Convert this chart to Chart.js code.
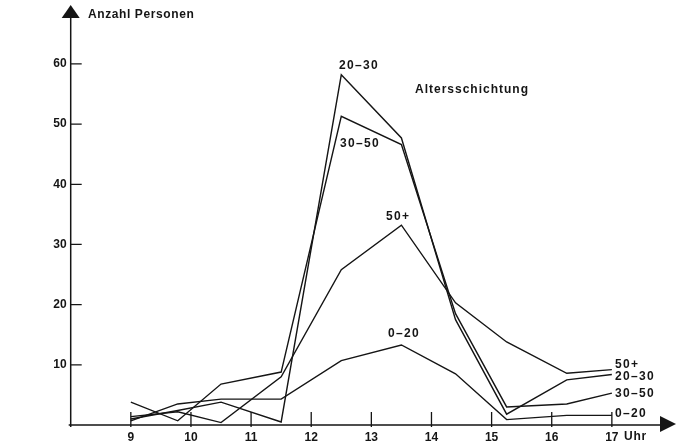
<!DOCTYPE html>
<html>
<head>
<meta charset="utf-8">
<script src="https://cdn.jsdelivr.net/npm/chart.js@4.4.1/dist/chart.umd.min.js"></script>
<style>
  html, body { margin: 0; padding: 0; background: #fff; }
  #wrap { width: 679px; height: 448px; }
</style>
</head>
<body>
<div id="wrap"><canvas id="chart"></canvas></div>
<script>
// Anzahl Personen nach Uhrzeit, Altersschichtung
const hours = [9, 9.78, 10.5, 11.5, 12.5, 13.5, 14.4, 15.25, 16.25, 17];
const age0_20 = [0.7, 3.5, 4.3, 4.3, 10.7, 13.3, 8.5, 0.9, 1.6, 1.6];
const age20_30 = [1.0, 2.4, 3.8, 0.5, 58.2, 47.7, 17.5, 1.8, 7.5, 8.4];
const age30_50 = [3.8, 0.7, 6.8, 8.8, 51.3, 46.6, 18.5, 3.0, 3.5, 5.3];
const age50plus = [1.4, 2.2, 0.4, 8.0, 25.8, 33.2, 20.3, 13.8, 8.6, 9.2];
const hourTicks = [9, 10, 11, 12, 13, 14, 15, 16, 17];
const countTicks = [10, 20, 30, 40, 50, 60];

const ink = '#151515';
const font = { family: 'Liberation Sans', size: 12, weight: 'bold' };

function pts(vals) {
    return vals.map((v, i) => ({ x: hours[i], y: v }));
}

function lineSet(label, vals) {
    return {
        label: label,
        data: pts(vals),
        borderColor: ink,
        borderWidth: 1.4,
        pointRadius: 0,
        tension: 0,
        fill: false
    };
}

// Achsen mit Pfeilen, Teilstriche und Beschriftungen im Diagramm
const handDrawn = {
    id: 'handDrawn',
    afterDraw(chart) {
        const ctx = chart.ctx;
        const xs = chart.scales.x, ys = chart.scales.y;
        const x0 = xs.left, yb = ys.bottom;
        ctx.save();
        ctx.strokeStyle = ink;
        ctx.fillStyle = ink;
        ctx.lineWidth = 1.5;

        ctx.beginPath();
        ctx.moveTo(x0, yb + 2);
        ctx.lineTo(x0, 14);
        ctx.moveTo(x0 - 2, yb);
        ctx.lineTo(662, yb);
        ctx.stroke();

        ctx.beginPath();
        ctx.moveTo(x0, 5);
        ctx.lineTo(x0 + 9, 18);
        ctx.lineTo(x0 - 9, 18);
        ctx.closePath();
        ctx.fill();

        ctx.beginPath();
        ctx.moveTo(676, yb - 1);
        ctx.lineTo(660, yb - 9);
        ctx.lineTo(660, yb + 7);
        ctx.closePath();
        ctx.fill();

        ctx.lineWidth = 1.3;
        ctx.beginPath();
        countTicks.forEach(v => {
            const y = ys.getPixelForValue(v);
            ctx.moveTo(x0, y);
            ctx.lineTo(x0 + 11, y);
        });
        hourTicks.forEach(h => {
            const x = xs.getPixelForValue(h);
            ctx.moveTo(x, yb - 13);
            ctx.lineTo(x, yb + 2);
        });
        ctx.stroke();

        ctx.font = 'bold 12px "Liberation Sans"';
        ctx.textBaseline = 'middle';
        ctx.textAlign = 'left';
        const notes = [
            ['Anzahl Personen', 88, 15, '0.6px'],
            ['Altersschichtung', 415, 90, '1px'],
            ['20–30', 339, 66, '1.3px'],
            ['30–50', 340, 144, '1.3px'],
            ['50+', 386, 217, '1.3px'],
            ['0–20', 388, 334, '1.3px'],
            ['50+', 615, 365, '1.3px'],
            ['20–30', 615, 377, '1.3px'],
            ['30–50', 615, 394, '1.3px'],
            ['0–20', 615, 414, '1.3px'],
            ['Uhr', 624, 437, '0.8px']
        ];
        notes.forEach(n => {
            ctx.letterSpacing = n[3];
            ctx.fillText(n[0], n[1], n[2]);
        });
        ctx.restore();
    }
};

new Chart(document.getElementById('chart'), {
    type: 'line',
    data: {
        datasets: [
            lineSet('0-20', age0_20),
            lineSet('20-30', age20_30),
            lineSet('30-50', age30_50),
            lineSet('50+', age50plus)
        ]
    },
    options: {
        responsive: true,
        maintainAspectRatio: false,
        animation: false,
        layout: { padding: { top: 14, right: 4, left: 0, bottom: 0 } },
        plugins: { legend: { display: false }, tooltip: { enabled: false } },
        scales: {
            x: {
                type: 'linear',
                min: 8,
                max: 18.05,
                afterBuildTicks: s => { s.ticks = hourTicks.map(v => ({ value: v })); },
                afterFit: s => { s.height = 23; },
                grid: { display: false, drawTicks: false },
                border: { display: false },
                ticks: { font: font, color: ink, padding: 5, maxRotation: 0, autoSkip: false }
            },
            y: {
                min: 0,
                max: 68.3,
                afterBuildTicks: s => { s.ticks = countTicks.map(v => ({ value: v })); },
                afterFit: s => { s.width = 70.7; },
                grid: { display: false, drawTicks: false },
                border: { display: false },
                ticks: { font: font, color: ink, padding: 4 }
            }
        }
    },
    plugins: [handDrawn]
});
</script>
</body>
</html>
